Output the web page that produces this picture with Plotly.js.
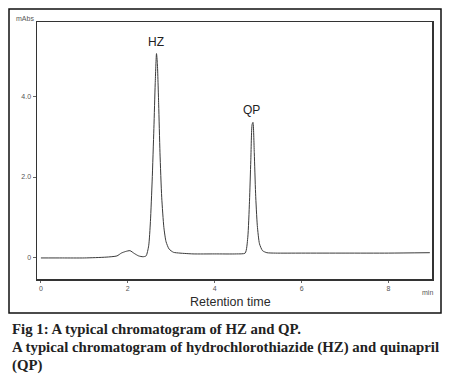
<!DOCTYPE html>
<html>
<head>
<meta charset="utf-8">
<script src="https://cdn.plot.ly/plotly-3.0.1.min.js"></script>
<style>
html,body{margin:0;padding:0;background:#fff;}
#chart{width:449px;height:383px;}
</style>
</head>
<body>
<div id="chart"></div>
<script>
// Retention time (min) and absorbance (mAbs)
var retentionTime = [0, 0.5, 1.0, 1.5, 1.75, 1.85, 1.95, 2.05, 2.15, 2.25, 2.35, 2.42, 2.48, 2.52, 2.56, 2.60, 2.63, 2.66, 2.68, 2.71, 2.74, 2.78, 2.83, 2.88, 2.95, 3.05, 3.2, 3.5, 4.0, 4.5, 4.7, 4.76, 4.80, 4.83, 4.86, 4.88, 4.91, 4.94, 4.98, 5.03, 5.1, 5.2, 5.4, 6.0, 7.0, 8.0, 8.95];
var absorbance    = [0, 0, 0.0, 0.02, 0.05, 0.12, 0.16, 0.18, 0.11, 0.05, 0.03, 0.05, 0.3, 0.9, 1.9, 3.2, 4.3, 5.05, 4.8, 3.8, 2.6, 1.5, 0.75, 0.4, 0.22, 0.14, 0.12, 0.1, 0.1, 0.1, 0.12, 0.5, 1.4, 2.4, 3.3, 3.35, 2.6, 1.6, 0.8, 0.35, 0.18, 0.13, 0.12, 0.12, 0.12, 0.12, 0.13];

var peakNames   = ['HZ', 'QP'];
var peakTimes   = [2.66, 4.88];
var peakHeights = [5.05, 3.35];

var xTickVals = [0, 2, 4, 6, 8];
var xTickText = ['0', '2', '4', '6', '8'];
var yTickVals = [0, 2, 4];
var yTickText = ['0', '2.0', '4.0'];

var yUnit = 'mAbs';
var xUnit = 'min';
var xTitle = 'Retention time';
var captionLines = [
  'Fig 1: A typical chromatogram of HZ and QP.',
  'A typical chromatogram of hydrochlorothiazide (HZ) and quinapril',
  '(QP)'
];

var trace = {
  x: retentionTime,
  y: absorbance,
  type: 'scatter',
  mode: 'lines',
  line: {color: '#3a3a3a', width: 1, shape: 'spline', smoothing: 0.6},
  hoverinfo: 'skip',
  showlegend: false
};

// plot area in pixels: x 37..432, y 22..279
var L = 37, R = 432, T = 22, B = 279, W = 449, H = 383;
function px(xp){ return (xp - L) / (R - L); }
function py(yp){ return (B - yp) / (B - T); }

var annotations = [];
for (var i = 0; i < peakNames.length; i++) {
  annotations.push({
    x: peakTimes[i], y: peakHeights[i], xref: 'x', yref: 'y',
    text: peakNames[i], showarrow: false, xanchor: 'center', yanchor: 'bottom',
    yshift: 3, xshift: -1,
    font: {family: 'Liberation Sans, Arial, sans-serif', size: 12, color: '#222'}
  });
}
annotations.push({
  x: 0, y: 1, xref: 'paper', yref: 'paper', text: yUnit, showarrow: false,
  xanchor: 'right', yanchor: 'middle', xshift: -1, yshift: 4,
  font: {family: 'Liberation Sans, Arial, sans-serif', size: 7, color: '#555'}
});
annotations.push({
  x: px(427), y: py(292), xref: 'paper', yref: 'paper', text: xUnit, showarrow: false,
  xanchor: 'center', yanchor: 'middle',
  font: {family: 'Liberation Sans, Arial, sans-serif', size: 7, color: '#555'}
});
annotations.push({
  x: px(230), y: py(302), xref: 'paper', yref: 'paper', text: xTitle, showarrow: false,
  xanchor: 'center', yanchor: 'middle',
  font: {family: 'Liberation Sans, Arial, sans-serif', size: 12.5, color: '#2a2a2a'}
});
var capY = [329, 347, 365];
for (var j = 0; j < captionLines.length; j++) {
  annotations.push({
    x: px(10), y: py(capY[j]), xref: 'paper', yref: 'paper', text: '<b>' + captionLines[j] + '</b>',
    showarrow: false, xanchor: 'left', yanchor: 'middle', align: 'left',
    font: {family: 'Liberation Serif, Times New Roman, serif', size: 14.8, color: '#222'}
  });
}

var layout = {
  width: W, height: H,
  margin: {l: L, r: W - R, t: T, b: H - B, pad: 0},
  paper_bgcolor: '#fff', plot_bgcolor: '#fff',
  xaxis: {
    range: [-0.09, 9.0], showgrid: false, zeroline: false,
    showline: true, mirror: true, linecolor: '#333', linewidth: 1.5,
    tickmode: 'array', tickvals: xTickVals, ticktext: xTickText,
    ticks: 'outside', ticklen: 2, tickcolor: '#666',
    tickfont: {family: 'Liberation Sans, Arial, sans-serif', size: 7, color: '#555'}
  },
  yaxis: {
    range: [-0.52, 5.83], showgrid: false, zeroline: false,
    showline: true, mirror: true, linecolor: '#333', linewidth: 1.5,
    tickmode: 'array', tickvals: yTickVals, ticktext: yTickText,
    ticks: 'outside', ticklen: 3, tickcolor: '#666',
    tickfont: {family: 'Liberation Sans, Arial, sans-serif', size: 7, color: '#555'}
  },
  annotations: annotations,
  shapes: [{
    type: 'rect', xref: 'paper', yref: 'paper',
    x0: px(9), x1: px(441), y0: py(313), y1: py(9),
    line: {color: '#111', width: 1.5}, fillcolor: 'rgba(0,0,0,0)'
  }]
};

Plotly.newPlot('chart', [trace], layout, {staticPlot: true, displayModeBar: false});
</script>
</body>
</html>
